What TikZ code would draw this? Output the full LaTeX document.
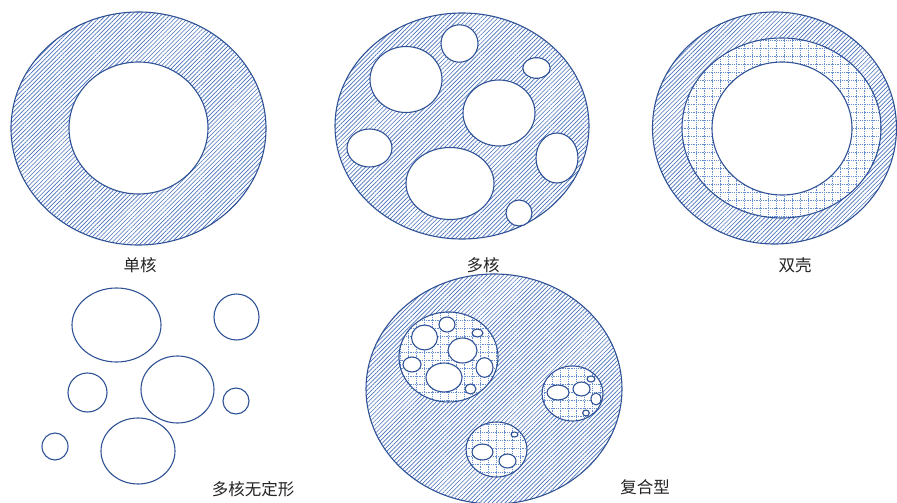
\documentclass[tikz,border=0pt]{standalone}
\usepackage{fontspec}
\newfontfamily\cjk{Noto Sans CJK SC}
\usetikzlibrary{patterns.meta}

\definecolor{rim}{RGB}{47,82,150}
\definecolor{hatchblue}{RGB}{72,112,188}
\definecolor{gridblue}{RGB}{100,140,208}
\definecolor{labeltext}{RGB}{35,35,35}

% an ellipse given by centre and the two radii (in pt)
\newcommand\ovl[4]{(#1,#2) ellipse [x radius=#3pt, y radius=#4pt]}

% white core with a blue rim
\newcommand\core[4]{\filldraw[corebox] \ovl{#1}{#2}{#3}{#4};}

% dotted-grid region bounded by an ellipse
\newcommand\gridzone[4]{%
  \fill[white] \ovl{#1}{#2}{#3}{#4};
  \begin{scope}
    \clip \ovl{#1}{#2}{#3}{#4};
    \draw[gridline] (#1-#3-2,#2-#4-2) grid (#1+#3+2,#2+#4+2);
  \end{scope}
  \draw[rimline] \ovl{#1}{#2}{#3}{#4};}

\begin{document}
\begin{tikzpicture}[x=1pt,y=-1pt,
  rimline/.style={draw=rim,line width=1.1pt},
  shellbox/.style={rimline,pattern={Lines[angle=45,distance=3pt,line width=0.65pt]},pattern color=hatchblue},
  corebox/.style={rimline,fill=white},
  gridline/.style={draw=gridblue,line width=0.55pt,dash pattern=on 0.9pt off 0.9pt,step=8pt},
  caption/.style={font=\cjk\fontsize{16.5}{19}\selectfont,text=labeltext,inner sep=0pt}]
\useasboundingbox (0,0) rectangle (897,503);

% ---- single core ----
\path[shellbox] \ovl{138.5}{128.5}{127.5}{116.5};
\core{138.5}{128}{69.5}{66}
\node[caption] (single) at (140,265) {单核};

% ---- multi core ----
\path[shellbox] \ovl{462}{126}{127}{113};
\core{459.5}{43.5}{18.5}{18.7}
\core{536.5}{68}{13.7}{10.3}
\core{406}{79.5}{36}{33}
\core{499}{113}{36}{33}
\core{369.5}{148}{22.5}{19}
\core{450}{183.5}{44}{36}
\core{557}{158}{21}{25}
\core{519}{213}{13}{13}
\node[caption] (multi) at (483,265) {多核};

% ---- double shell ----
\path[shellbox] \ovl{774.5}{128}{122}{116};
\gridzone{781.5}{128}{99.5}{90}
\core{782}{128.5}{70}{66.5}
\node[caption] (double) at (795,265) {双壳};

% ---- amorphous multi core ----
\draw[rimline] \ovl{116.5}{325}{44.5}{37};
\draw[rimline] \ovl{236.5}{317}{22.5}{23};
\draw[rimline] \ovl{87.5}{392.5}{19.5}{19.5};
\draw[rimline] \ovl{177.5}{389.5}{36.5}{33.5};
\draw[rimline] \ovl{236}{401}{13}{13};
\draw[rimline] \ovl{55}{446.5}{13}{13.5};
\draw[rimline] \ovl{138}{451}{37}{33};
\node[caption] (amorph) at (253,489) {多核无定形};

% ---- composite ----
\path[shellbox] \ovl{494}{389}{128}{115};
\gridzone{448.5}{357}{49.5}{45}
\core{447}{324.5}{8}{7.5}
\core{477.5}{333}{5.5}{4}
\core{424.5}{337.5}{13}{12.5}
\core{462.5}{350.5}{14.5}{12.5}
\core{412}{364.5}{9}{7.5}
\core{444}{377.5}{18}{14.5}
\core{484.5}{367.5}{8.5}{9.8}
\core{470.5}{389}{5.5}{5}
\gridzone{572.5}{393.5}{30.5}{27.5}
\core{558}{392.5}{11}{7.5}
\core{581.5}{389}{8.5}{7}
\core{591}{379}{4}{3}
\core{596}{399}{5}{6}
\core{586}{413}{3.3}{3}
\gridzone{496.5}{449.5}{30.5}{27.5}
\core{514.5}{434.5}{3.5}{2.5}
\core{482.5}{452}{10.5}{8}
\core{507.5}{461}{8.5}{7}
\node[caption] (composite) at (645,487) {复合型};
\end{tikzpicture}
\end{document}
